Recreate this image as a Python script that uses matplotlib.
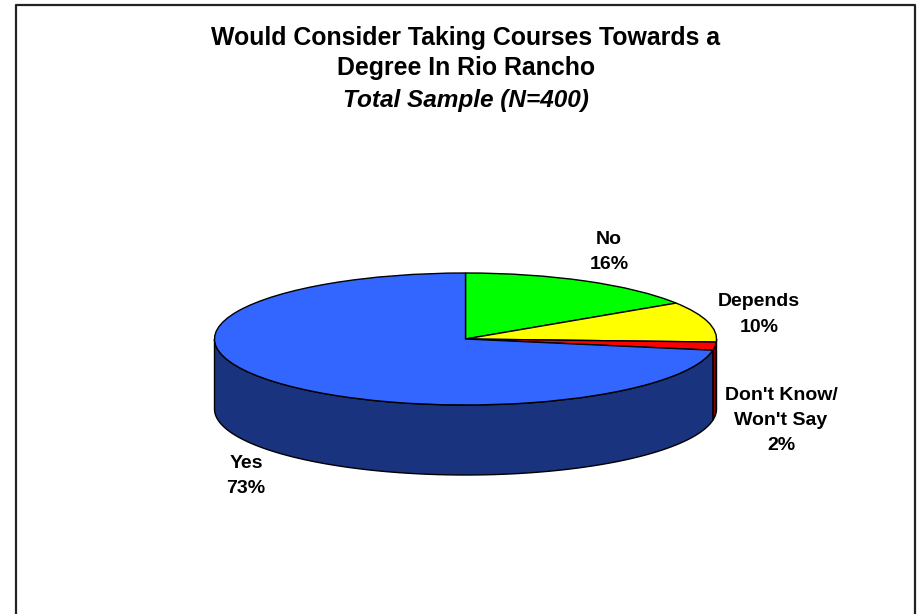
import numpy as np
import matplotlib
matplotlib.use('Agg')
import matplotlib.pyplot as plt
from matplotlib.lines import Line2D
from matplotlib.transforms import Affine2D

plt.rcParams['font.family'] = ['Liberation Sans', 'DejaVu Sans']

# data, clockwise from 12 o'clock
categories = ['No', 'Depends', "Don't Know/\nWon't Say", 'Yes']
values = [16, 10, 2, 73]
colors = ['#00FF00', '#FFFF00', '#FF0000', '#3366FF']
side_colors = ['#008000', '#808000', '#800000', '#1A337F']

title_lines = ['Would Consider Taking Courses Towards a', 'Degree In Rio Rancho']
subtitle = 'Total Sample (N=400)'

W, H = 920, 614
cx, cy, rx, ry, depth = 465.5, 339, 251, 66, 70

fig = plt.figure(figsize=(W / 100, H / 100), dpi=100)
ax = fig.add_axes([0, 0, 1, 1])

# pixel coords (y down) for the text and the frame
px = Affine2D().scale(1 / W, -1 / H).translate(0, 1) + fig.transFigure

# side wall first, only the front half of each slice shows
fracs = np.array(values) / np.sum(values)
edges = np.concatenate([[0], np.cumsum(fracs)]) * 360
d = depth / ry
for i in range(len(values)):
    a = max(edges[i], 90)
    b = min(edges[i + 1], 270)
    if b <= a:
        continue
    t = np.radians(np.linspace(a, b, 200))
    xs = np.sin(t)
    ys = np.cos(t)
    ax.fill(np.r_[xs, xs[::-1]], np.r_[ys, ys[::-1] - d],
            facecolor=side_colors[i], edgecolor='black', linewidth=1, zorder=1)

wedges, _ = ax.pie(values, colors=colors, startangle=90, counterclock=False,
                   wedgeprops={'edgecolor': 'black', 'linewidth': 1, 'zorder': 2})

ax.set_aspect('auto')
ax.set_xlim((0 - cx) / rx, (W - cx) / rx)
ax.set_ylim((cy - H) / ry, (cy - 0) / ry)
ax.axis('off')

# title
fig.text(466, 37.5, title_lines[0], transform=px, ha='center', va='center',
         fontsize=17.9, fontweight='bold')
fig.text(466, 67.5, title_lines[1], transform=px, ha='center', va='center',
         fontsize=17.9, fontweight='bold')
fig.text(466, 100, subtitle, transform=px, ha='center', va='center',
         fontsize=17.6, fontweight='bold', fontstyle='italic')

# slice labels
label_pos = [(609, 252), (759, 314.5), (781, 420.5), (246, 476)]
for name, v, (lx, ly) in zip(categories, values, label_pos):
    fig.text(lx, ly, f'{name}\n{v}%', transform=px, ha='center', va='center',
             fontsize=14, fontweight='bold', linespacing=1.63)

# frame, no bottom edge
fig.add_artist(Line2D([16, 16, 915, 915], [614, 4.5, 4.5, 614], transform=px,
                      color='#222222', linewidth=1.6))

fig.savefig('out.png', dpi=100)
